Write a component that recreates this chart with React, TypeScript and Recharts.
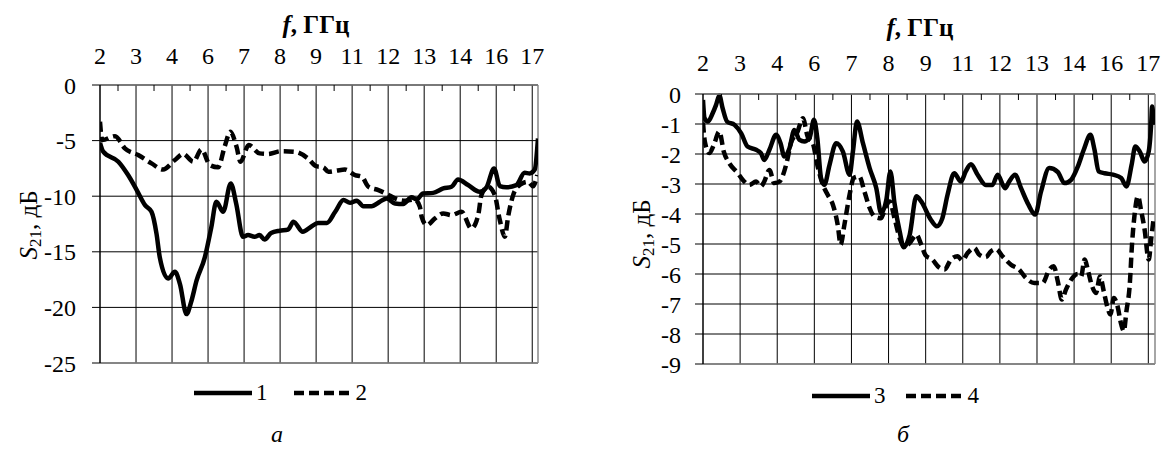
import { LineChart, Line, XAxis, YAxis, CartesianGrid, ReferenceLine, Legend } from "recharts";

// frequency labels of the category axis (Excel style, evenly spaced)
const freqLabels = ["2", "3", "4", "6", "7", "8", "9", "11", "12", "13", "14", "16", "17"];

const dbTicksA = [-25, -20, -15, -10, -5, 0];
const dbTicksB = [-9, -8, -7, -6, -5, -4, -3, -2, -1, 0];

// [category position, S21 dB]
const curve1: [number, number][] = [
  [0, -5.2], [0.09, -6.0], [0.51, -6.9], [0.78, -8.1], [1.02, -9.45], [1.25, -10.8], [1.43, -11.4],
  [1.57, -13.4], [1.66, -15.5], [1.89, -17.4], [2.08, -16.8], [2.22, -17.9], [2.4, -20.6], [2.54, -19.4],
  [2.68, -17.6], [2.91, -15.5], [3.09, -12.8], [3.23, -10.5], [3.42, -11.4], [3.63, -8.85], [3.78, -10.65],
  [3.97, -13.65], [4.11, -13.5], [4.29, -13.65], [4.43, -13.5], [4.57, -13.9], [4.75, -13.3], [4.99, -13.1],
  [5.22, -13.0], [5.37, -12.3], [5.63, -13.2], [5.86, -12.75], [6.05, -12.4], [6.3, -12.4], [6.53, -11.4],
  [6.76, -10.35], [6.94, -10.6], [7.13, -10.4], [7.31, -10.9], [7.54, -10.9], [7.77, -10.5], [7.96, -10.2],
  [8.19, -10.65], [8.42, -10.7], [8.65, -10.1], [8.79, -10.3], [8.97, -9.75], [9.25, -9.7], [9.53, -9.3],
  [9.76, -9.15], [9.94, -8.5], [10.22, -9.0], [10.54, -9.6], [10.73, -9.2], [10.94, -7.5], [11.1, -9.1],
  [11.28, -9.2], [11.56, -9.0], [11.79, -7.9], [11.93, -7.95], [12.07, -7.6], [12.16, -4.8],
];

const curve2: [number, number][] = [
  [0, -3.3], [0.06, -4.95], [0.42, -4.6], [0.69, -5.7], [1.06, -6.3], [1.43, -7.05], [1.75, -7.6],
  [2.08, -6.75], [2.31, -6.2], [2.59, -6.9], [2.82, -5.8], [3.05, -7.2], [3.28, -7.4], [3.46, -5.55],
  [3.62, -4.2], [3.79, -5.55], [3.9, -6.9], [4.13, -5.4], [4.43, -6.15], [4.66, -6.2], [5.03, -5.95],
  [5.4, -6.0], [5.77, -6.6], [6.0, -7.3], [6.2, -7.4], [6.34, -7.8], [6.57, -7.7], [6.8, -7.6],
  [7.08, -8.1], [7.27, -8.25], [7.45, -9.15], [7.73, -9.45], [7.96, -9.8], [8.19, -10.2], [8.47, -10.4],
  [8.74, -10.3], [8.88, -10.95], [8.93, -11.85], [9.07, -12.6], [9.3, -12.0], [9.53, -11.55], [9.76, -11.7],
  [10.04, -11.4], [10.31, -12.9], [10.5, -11.7], [10.59, -9.9], [10.77, -9.15], [10.96, -9.9], [11.1, -12.15],
  [11.24, -13.65], [11.33, -11.85], [11.47, -9.9], [11.65, -9.0], [11.88, -8.7], [12.02, -9.1], [12.14, -8.1],
];

const curve3: [number, number][] = [
  [0, -0.2], [0.04, -0.8], [0.13, -0.92], [0.26, -0.64], [0.35, -0.37], [0.44, -0.05], [0.53, -0.48],
  [0.65, -0.92], [0.85, -1.03], [1.03, -1.31], [1.2, -1.75], [1.43, -1.86], [1.56, -1.97], [1.65, -2.2],
  [1.79, -1.86], [1.97, -1.36], [2.09, -1.64], [2.19, -2.08], [2.33, -1.81], [2.46, -1.2], [2.6, -1.53],
  [2.73, -1.58], [2.87, -1.47], [2.99, -0.86], [3.08, -1.47], [3.18, -2.8], [3.27, -3.03], [3.41, -2.36],
  [3.59, -1.64], [3.77, -1.92], [3.95, -2.69], [4.04, -1.92], [4.15, -0.92], [4.31, -1.64], [4.49, -2.47],
  [4.67, -3.14], [4.8, -3.97], [4.94, -3.53], [5.05, -2.58], [5.16, -3.64], [5.3, -4.58], [5.41, -5.11],
  [5.57, -4.69], [5.75, -3.41], [5.88, -3.58], [6.14, -4.19], [6.3, -4.41], [6.45, -4.14], [6.59, -3.36],
  [6.77, -2.64], [6.95, -2.92], [7.08, -2.58], [7.22, -2.34], [7.4, -2.69], [7.62, -3.03], [7.8, -3.03],
  [7.94, -2.69], [8.14, -3.14], [8.25, -2.92], [8.41, -2.69], [8.57, -3.14], [8.77, -3.69], [8.95, -4.02],
  [9.11, -3.25], [9.33, -2.47], [9.56, -2.6], [9.74, -2.97], [9.92, -2.86], [10.1, -2.42], [10.26, -1.86],
  [10.44, -1.36], [10.55, -1.86], [10.66, -2.58], [10.82, -2.64], [11.05, -2.69], [11.27, -2.8], [11.41, -3.08],
  [11.55, -2.36], [11.65, -1.75], [11.77, -1.92], [11.9, -2.25], [12.01, -1.92], [12.08, -0.92], [12.1, -0.42],
  [12.15, -1.03],
];

const curve4: [number, number][] = [
  [0, -0.95], [0.05, -1.59], [0.17, -1.97], [0.29, -1.7], [0.44, -1.25], [0.56, -1.92], [0.71, -2.31],
  [0.94, -2.64], [1.07, -2.86], [1.25, -3.03], [1.43, -2.92], [1.56, -3.08], [1.65, -2.92], [1.79, -2.53],
  [1.92, -2.97], [2.06, -2.92], [2.24, -2.36], [2.37, -1.64], [2.55, -1.25], [2.69, -0.81], [2.82, -1.42],
  [2.96, -1.64], [3.09, -2.42], [3.23, -3.03], [3.36, -3.36], [3.5, -3.69], [3.63, -4.36], [3.71, -5.02],
  [3.81, -4.36], [3.95, -3.36], [4.06, -2.8], [4.21, -2.75], [4.35, -3.25], [4.49, -3.8], [4.62, -4.08],
  [4.8, -4.14], [4.91, -3.8], [5.03, -3.58], [5.16, -4.14], [5.3, -4.8], [5.41, -5.08], [5.57, -4.97],
  [5.75, -4.69], [5.88, -5.02], [6.0, -5.38], [6.18, -5.52], [6.36, -5.78], [6.51, -5.85], [6.68, -5.52],
  [6.86, -5.41], [6.99, -5.55], [7.13, -5.3], [7.31, -5.13], [7.44, -5.35], [7.62, -5.44], [7.76, -5.24],
  [7.9, -5.17], [8.07, -5.41], [8.3, -5.69], [8.52, -5.85], [8.7, -6.13], [8.93, -6.3], [9.15, -6.3],
  [9.33, -5.85], [9.45, -5.74], [9.56, -6.24], [9.67, -6.85], [9.78, -6.52], [9.92, -6.19], [10.1, -6.0],
  [10.19, -6.08], [10.28, -5.52], [10.38, -5.91], [10.47, -6.35], [10.59, -6.63], [10.7, -6.08], [10.8, -6.58],
  [10.89, -7.07], [10.98, -7.35], [11.07, -6.8], [11.16, -7.02], [11.27, -7.68], [11.34, -7.9], [11.41, -7.24],
  [11.5, -6.35], [11.56, -5.02], [11.63, -4.02], [11.72, -3.41], [11.81, -3.91], [11.9, -4.52], [12.01, -5.52],
  [12.08, -4.8], [12.15, -4.08],
];

const FONT = "'Liberation Serif', 'Times New Roman', serif";
const TICK_FS = 24;
const DASH = "10 5";
const LINE_W = 4.5;
const gridPositions = [1, 2, 3, 4, 5, 6, 7, 8, 9, 10, 11, 12];
const axisTicks = Array.from({ length: 25 }, (_, i) => i / 2);

const toRows = (pts: [number, number][]) => pts.map(([x, y]) => ({ x, y }));

const makeTopTick = (lift: number) => (props: any) => {
  const { x, y, payload } = props;
  const v = payload.value;
  if (Number.isInteger(v)) {
    return (
      <text x={x} y={y - lift} textAnchor="middle" fontSize={TICK_FS} fontFamily={FONT} fill="#000">
        {freqLabels[v]}
      </text>
    );
  }
  return <line x1={x} x2={x} y1={y} y2={y + 6} stroke="#000" strokeWidth={1} />;
};

function LegendRow({ names, gap }: { names: string[]; gap: number }) {
  return (
    <div style={{ display: "flex", alignItems: "center", fontFamily: FONT, fontSize: 23, color: "#000" }}>
      <svg width={58} height={10}>
        <line x1={0} x2={58} y1={5} y2={5} stroke="#000" strokeWidth={LINE_W} />
      </svg>
      <span style={{ marginLeft: 4 }}>{names[0]}</span>
      <svg width={60} height={10} style={{ marginLeft: gap }}>
        <line x1={0} x2={60} y1={5} y2={5} stroke="#000" strokeWidth={LINE_W} strokeDasharray={DASH} />
      </svg>
      <span style={{ marginLeft: 2 }}>{names[1]}</span>
    </div>
  );
}

interface PanelProps {
  left: number;
  width: number;
  plotLeft: number;
  plotTop: number;
  plotRight: number;
  plotBottom: number;
  xMax: number;
  yMin: number;
  yTicks: number[];
  labelLift: number;
  tickGap: number;
  solid: [number, number][];
  dashed: [number, number][];
  names: string[];
  legendLeft: number;
  legendTop: number;
  legendGap: number;
}

function Panel(p: PanelProps) {
  const height = 400;
  return (
    <div style={{ position: "absolute", left: p.left, top: 0 }}>
      <LineChart
        width={p.width}
        height={height}
        margin={{ top: 0, right: p.width - p.plotRight, bottom: height - p.plotBottom, left: 0 }}
      >
        <CartesianGrid vertical={false} stroke="#000" strokeWidth={1} />
        {gridPositions.map((g) => (
          <ReferenceLine key={g} x={g} stroke="#000" strokeWidth={1} />
        ))}
        <ReferenceLine x={p.xMax} stroke="#888" strokeWidth={1.5} />
        <ReferenceLine y={p.yMin} stroke="#888" strokeWidth={1.5} />
        <XAxis
          dataKey="x"
          type="number"
          orientation="top"
          domain={[0, p.xMax]}
          ticks={axisTicks}
          interval={0}
          allowDataOverflow
          height={p.plotTop}
          tickSize={0}
          tickMargin={0}
          tickLine={false}
          axisLine={{ stroke: "#777", strokeWidth: 1.5 }}
          tick={makeTopTick(p.labelLift)}
        />
        <YAxis
          type="number"
          domain={[p.yMin, 0]}
          ticks={p.yTicks}
          interval={0}
          width={p.plotLeft}
          tickSize={8}
          tickMargin={p.tickGap}
          axisLine={{ stroke: "#000", strokeWidth: 1.5 }}
          tickLine={{ stroke: "#000" }}
          tick={{ fontSize: TICK_FS, fontFamily: FONT, fill: "#000" }}
        />
        <Line
          data={toRows(p.solid)}
          dataKey="y"
          type="monotone"
          stroke="#000"
          strokeWidth={LINE_W}
          dot={false}
          isAnimationActive={false}
        />
        <Line
          data={toRows(p.dashed)}
          dataKey="y"
          type="monotone"
          stroke="#000"
          strokeWidth={LINE_W}
          strokeDasharray={DASH}
          dot={false}
          isAnimationActive={false}
        />
        <Legend
          layout="horizontal"
          verticalAlign="middle"
          align="center"
          wrapperStyle={{ left: p.legendLeft, top: p.legendTop, width: 200, height: 26 }}
          content={() => <LegendRow names={p.names} gap={p.legendGap} />}
        />
      </LineChart>
    </div>
  );
}

export default function App() {
  return (
    <div style={{ position: "absolute", left: 0, top: 0, width: 1163, height: 449, background: "#fff" }}>
      <Panel
        left={0}
        width={560}
        plotLeft={100}
        plotTop={85}
        plotRight={538}
        plotBottom={363}
        xMax={12.16}
        yMin={-25}
        yTicks={dbTicksA}
        labelLift={21}
        tickGap={16}
        solid={curve1}
        dashed={curve2}
        names={["1", "2"]}
        legendLeft={194}
        legendTop={380}
        legendGap={26}
      />
      <Panel
        left={580}
        width={583}
        plotLeft={123}
        plotTop={94}
        plotRight={575}
        plotBottom={364}
        xMax={12.18}
        yMin={-9}
        yTicks={dbTicksB}
        labelLift={23}
        tickGap={14}
        solid={curve3}
        dashed={curve4}
        names={["3", "4"]}
        legendLeft={232}
        legendTop={383}
        legendGap={20}
      />
      <svg
        width={1163}
        height={449}
        style={{ position: "absolute", left: 0, top: 0, pointerEvents: "none" }}
        fontFamily={FONT}
        fontSize={25}
      >
        <text x={316} y={33} textAnchor="middle" fontWeight="bold">
          <tspan fontStyle="italic">f</tspan>, ГГц
        </text>
        <text x={920} y={36} textAnchor="middle" fontWeight="bold">
          <tspan fontStyle="italic">f</tspan>, ГГц
        </text>
        <text transform="translate(37,225) rotate(-90)" textAnchor="middle">
          <tspan fontStyle="italic">S</tspan>
          <tspan fontSize={17} dy={4}>21</tspan>
          <tspan dy={-4}>, дБ</tspan>
        </text>
        <text transform="translate(650,234) rotate(-90)" textAnchor="middle">
          <tspan fontStyle="italic">S</tspan>
          <tspan fontSize={17} dy={4}>21</tspan>
          <tspan dy={-4}>, дБ</tspan>
        </text>
        <text x={277} y={442} textAnchor="middle" fontStyle="italic" fontSize={24}>а</text>
        <text x={903} y={442} textAnchor="middle" fontStyle="italic" fontSize={24}>б</text>
      </svg>
    </div>
  );
}
